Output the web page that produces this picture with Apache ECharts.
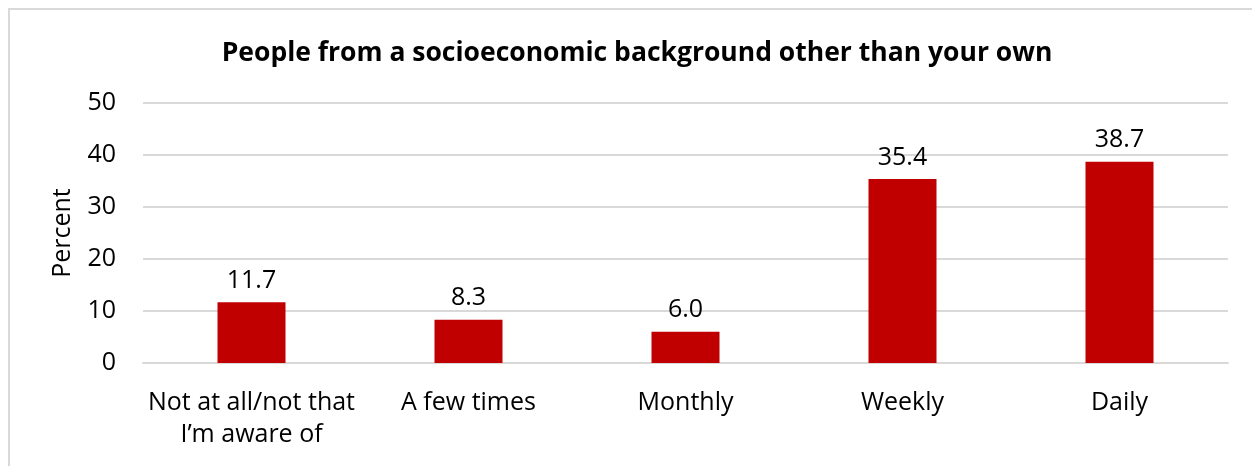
<!DOCTYPE html>
<html><head><meta charset="utf-8">
<script src="https://cdn.jsdelivr.net/npm/echarts@6/dist/echarts.min.js"></script>
<style>html,body{margin:0;padding:0;background:#fff}#c{width:1252px;height:466px}</style>
</head><body><div id="c"></div>
<script>
const title = 'People from a socioeconomic background other than your own';
const categories = ['Not at all/not that\nI\u2019m aware of', 'A few times', 'Monthly', 'Weekly', 'Daily'];
const values = [11.7, 8.3, 6.0, 35.4, 38.7];
const yTicks = { min: 0, max: 50, interval: 10 };
const yName = 'Percent';
const FONT = '"Open Sans", "Noto Sans", sans-serif';

const chart = echarts.init(document.getElementById('c'), null, { renderer: 'canvas' });
chart.setOption({
  animation: false,
  backgroundColor: '#fff',
  graphic: [{
    type: 'rect', shape: { x: 9, y: 9, width: 1400, height: 600 },
    style: { fill: 'none', stroke: '#d9d9d9', lineWidth: 2 }, silent: true, z: -1
  }],
  title: {
    text: title, left: 632, textAlign: 'center', top: 35,
    textStyle: { fontFamily: FONT, fontSize: 26.5, fontWeight: 'bold', color: '#000' }
  },
  grid: { left: 143, right: 24, top: 103, bottom: 103 },
  xAxis: {
    type: 'category', data: categories,
    axisLine: { lineStyle: { color: '#d9d9d9', width: 2 } },
    axisTick: { show: false },
    axisLabel: { fontFamily: FONT, fontSize: 25, color: '#000', margin: 24, lineHeight: 32, interval: 0 }
  },
  yAxis: {
    type: 'value', min: yTicks.min, max: yTicks.max, interval: yTicks.interval,
    name: yName, nameLocation: 'middle', nameGap: 68, nameRotate: 90,
    nameTextStyle: { fontFamily: FONT, fontSize: 25, color: '#000' },
    axisLine: { show: false }, axisTick: { show: false },
    axisLabel: { fontFamily: FONT, fontSize: 25, color: '#000', margin: 27 },
    splitLine: { lineStyle: { color: '#d9d9d9', width: 2 } }
  },
  series: [{
    type: 'bar', data: values, barWidth: 68,
    itemStyle: { color: '#C00000' },
    label: {
      show: true, position: 'top', distance: 9,
      formatter: p => p.value.toFixed(1),
      fontFamily: FONT, fontSize: 25, color: '#000'
    }
  }]
});
</script></body></html>
